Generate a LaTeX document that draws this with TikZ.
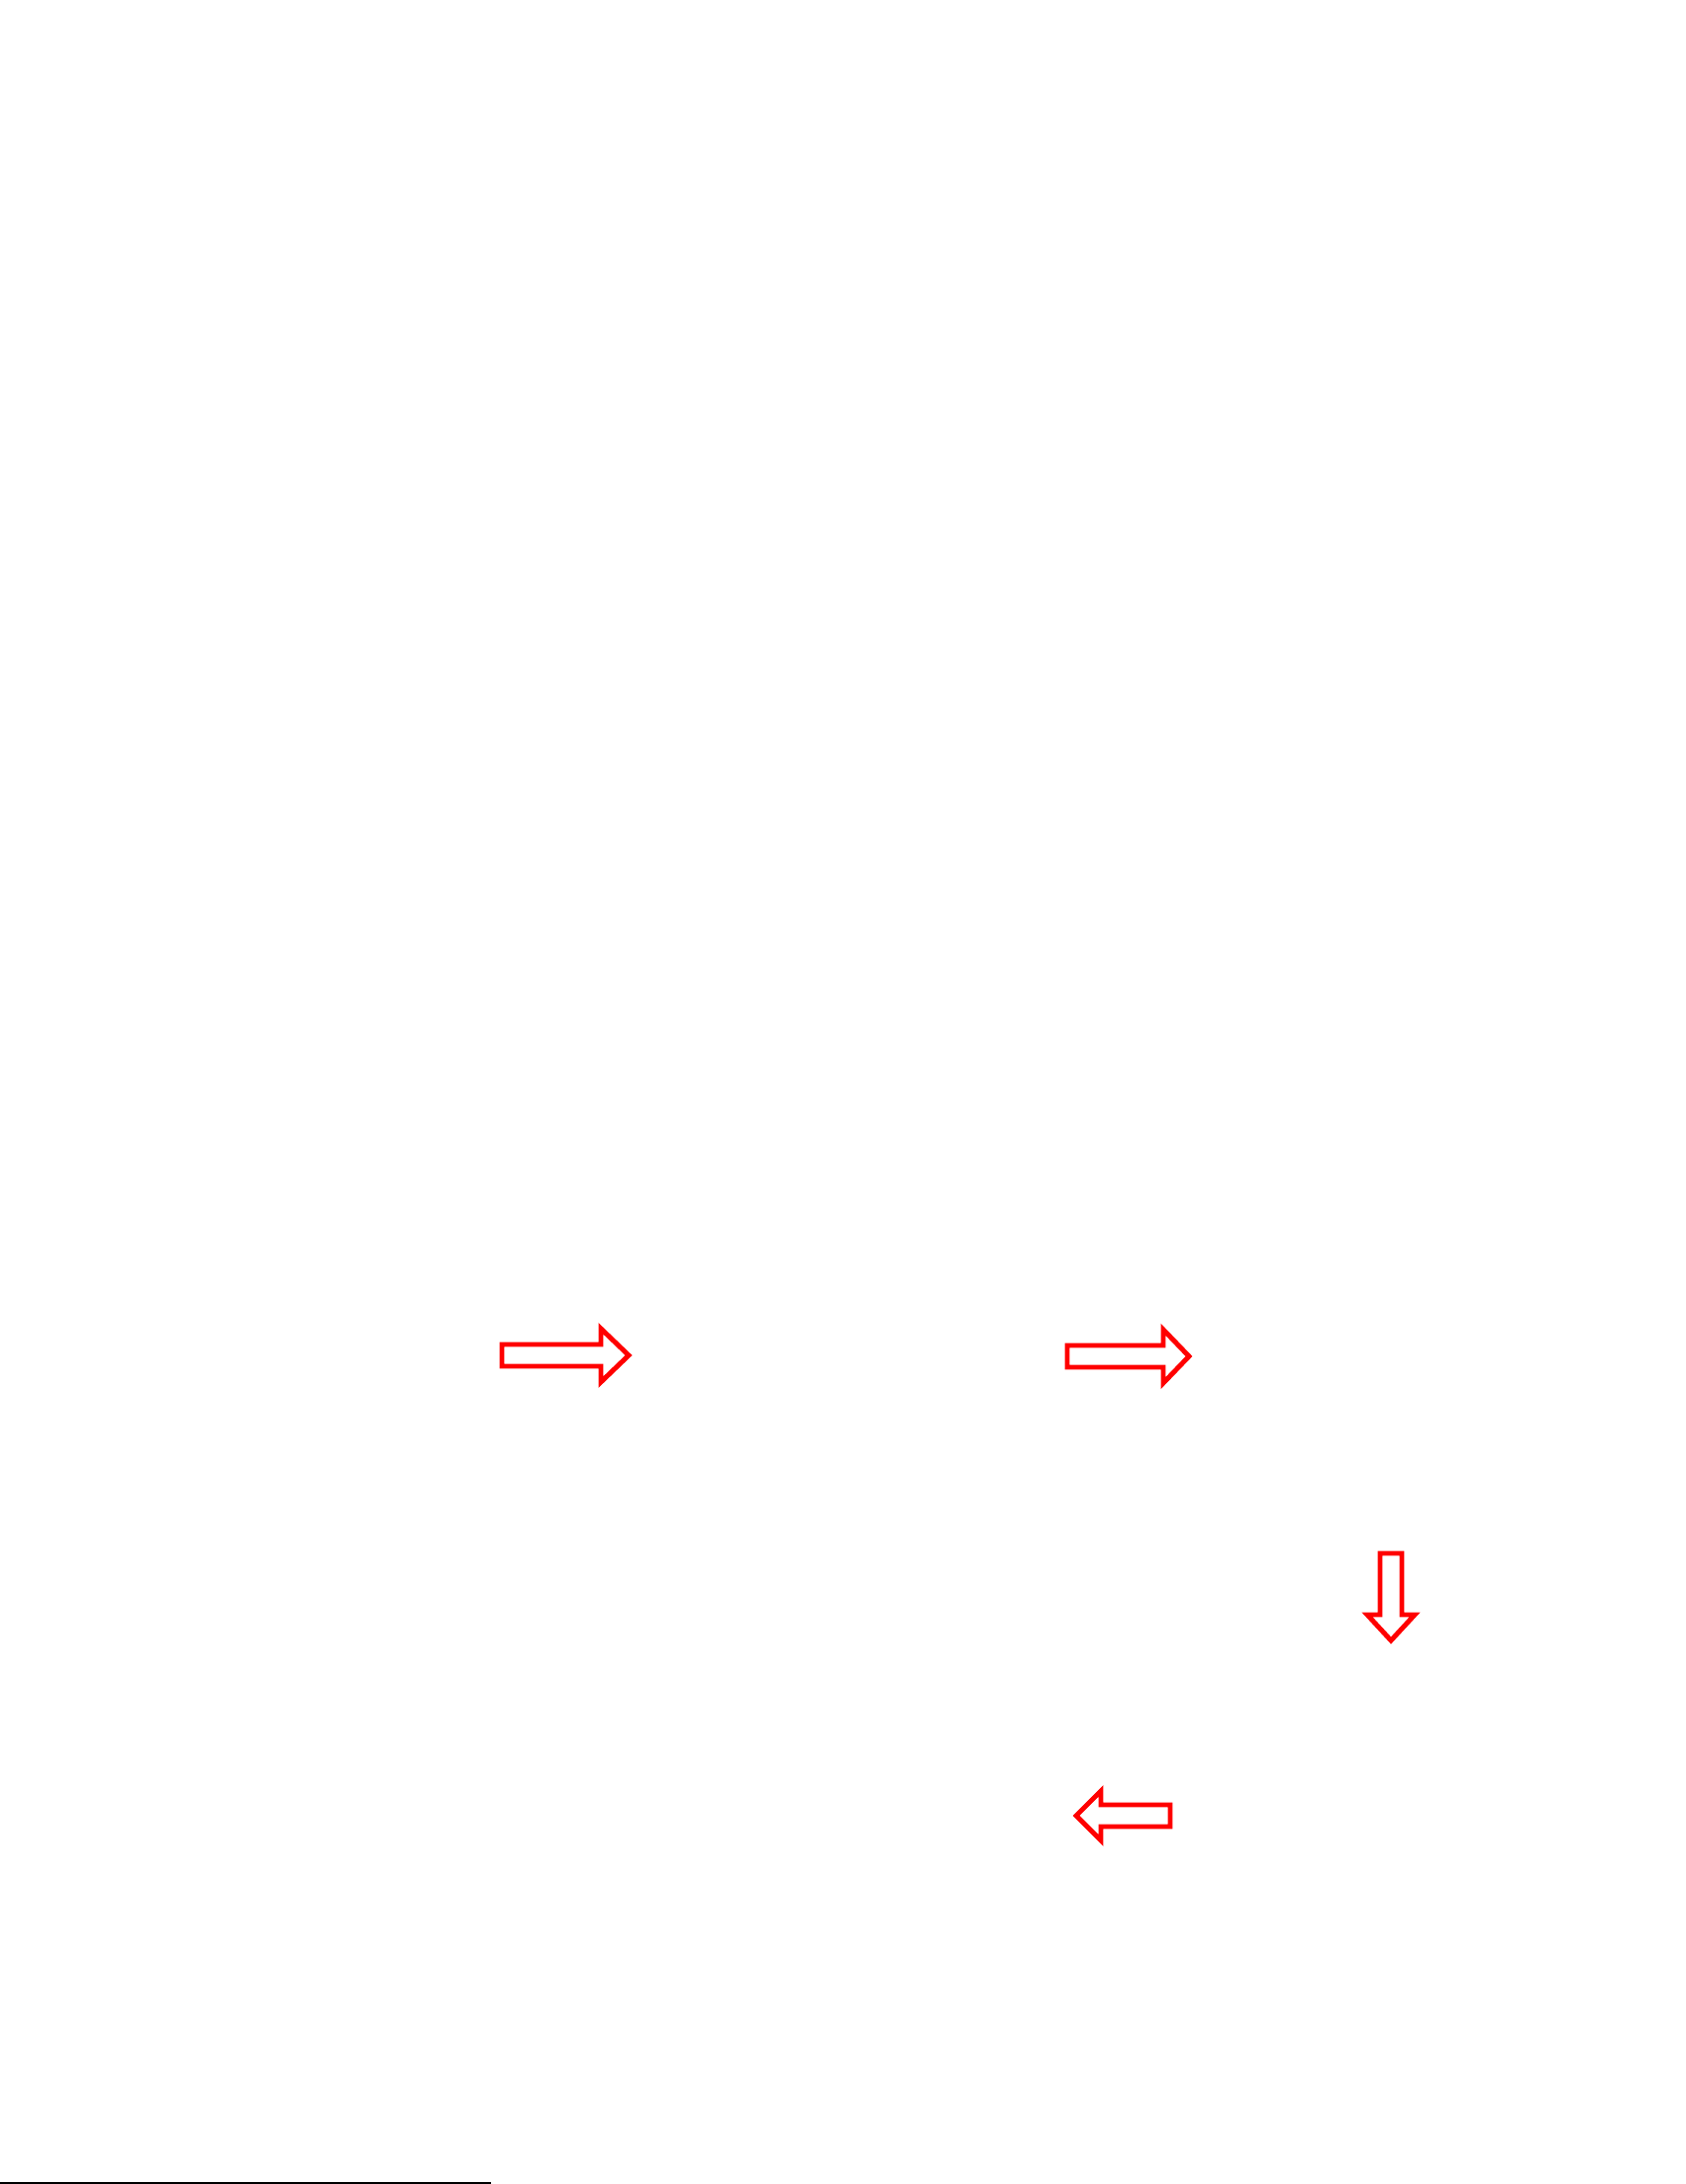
\documentclass[tikz,border=0pt]{standalone}
\usetikzlibrary{calc}
\tikzset{flowarrow/.style={draw=red, line width=1.4pt, line join=miter}}
\begin{document}
\begin{tikzpicture}[x=0.01cm,y=0.01cm]
  \useasboundingbox (0,0) rectangle (1702,2206);
  % outlined arrows: tail x / tail y / angle / length / head base / shaft half / head half
  \foreach \ax/\ay/\ang/\len/\hb/\sw/\hw in {507/837/0/128/100/11/27,
      1078/836/0/123/97/11/27, 1405/637/-90/88/62/11/24, 1182/372/180/95/70/11/25} {
    \draw[flowarrow, shift={(\ax,\ay)}, rotate=\ang]
      (0,-\sw) -- (\hb,-\sw) -- (\hb,-\hw) -- (\len,0) -- (\hb,\hw) -- (\hb,\sw) -- (0,\sw) -- cycle;
  }
  % footnote rule
  \draw[line width=0.6pt] (0,1) -- (496,1);
\end{tikzpicture}
\end{document}
